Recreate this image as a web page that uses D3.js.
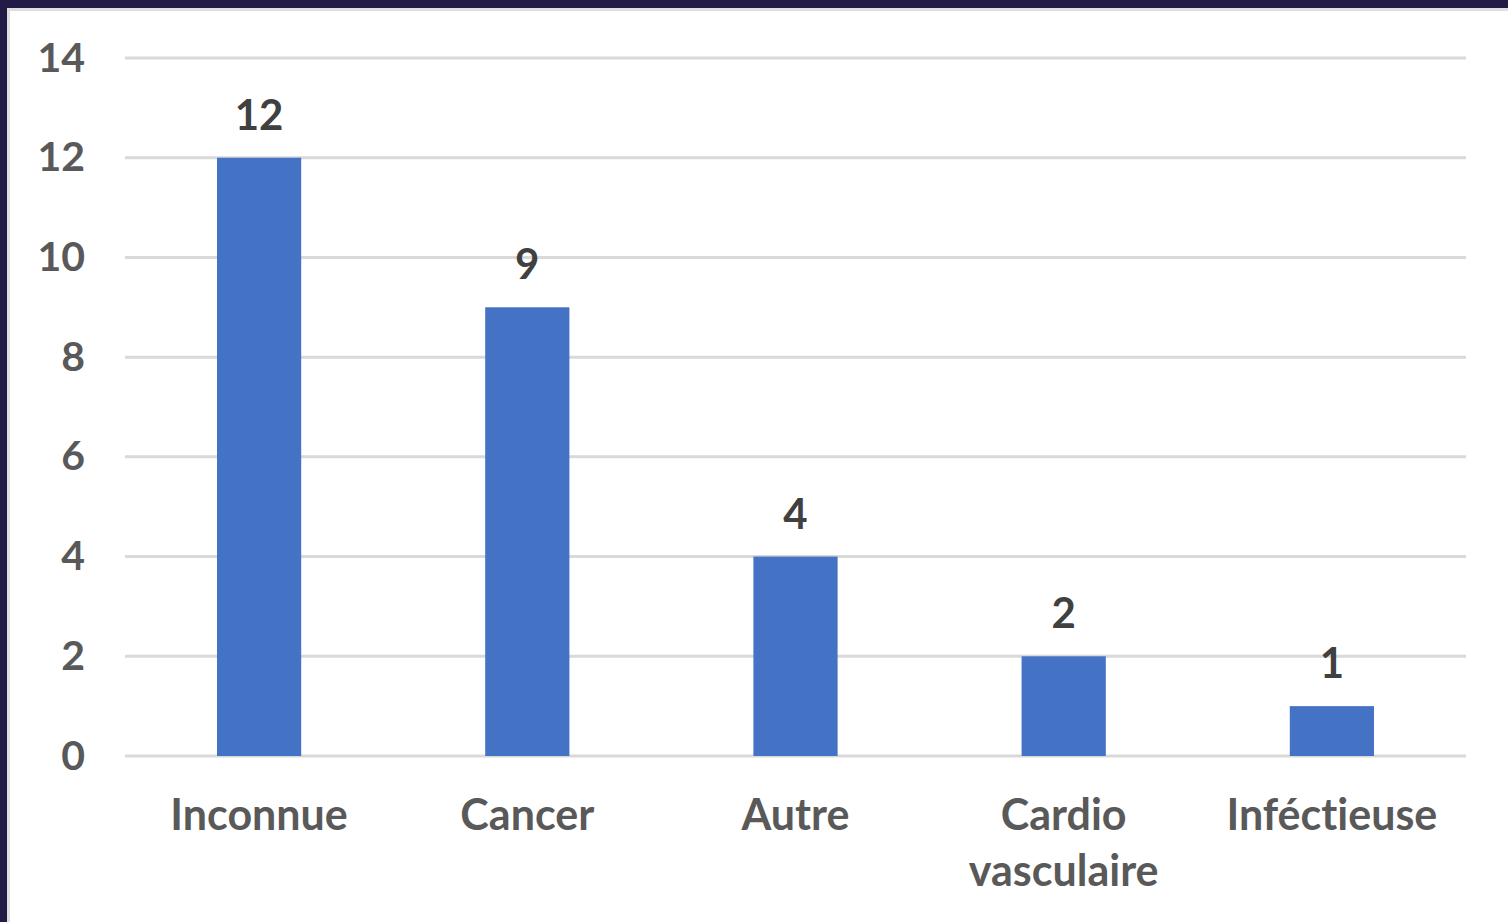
<!DOCTYPE html>
<html>
<head>
<meta charset="utf-8">
<script src="https://cdn.jsdelivr.net/npm/d3@7"></script>
<style>
  html, body { margin: 0; padding: 0; background: #ffffff; }
  svg { display: block; }
  text { font-variant-ligatures: none; font-feature-settings: "liga" 0; }
</style>
</head>
<body>
<script>
// data
var categories = [['Inconnue'], ['Cancer'], ['Autre'], ['Cardio', 'vasculaire'], ['Inféctieuse']];
var values = [12, 9, 4, 2, 1];
var yTicks = [0, 2, 4, 6, 8, 10, 12, 14];

var width = 1508, height = 922;
var margin = { top: 58, right: 42, bottom: 166, left: 125 };

var svg = d3.select('body').append('svg')
  .attr('width', width)
  .attr('height', height);

// frame: dark border on top and left, thin grey inside
svg.append('rect').attr('x', 0).attr('y', 0).attr('width', width).attr('height', height).style('fill', '#ffffff');
svg.append('rect').attr('x', 0).attr('y', 0).attr('width', width).attr('height', 8).style('fill', '#231a45');
svg.append('rect').attr('x', 0).attr('y', 0).attr('width', 7).attr('height', height).style('fill', '#231a45');
svg.append('rect').attr('x', 7).attr('y', 8).attr('width', width - 7).attr('height', 3).style('fill', '#dedede');
svg.append('rect').attr('x', 7).attr('y', 8).attr('width', 3).attr('height', height - 8).style('fill', '#dedede');

var keys = categories.map(function(d) { return d.join(' '); });

var x = d3.scaleBand()
  .domain(keys)
  .range([margin.left, width - margin.right])
  .paddingInner(0.686)
  .paddingOuter(0.343);

var y = d3.scaleLinear()
  .domain([0, 14])
  .range([height - margin.bottom, margin.top]);

var font = 'Lato, "Open Sans", sans-serif';

// gridlines
svg.append('g')
  .selectAll('line')
  .data(yTicks)
  .enter()
  .append('line')
  .attr('x1', margin.left)
  .attr('x2', width - margin.right)
  .attr('y1', function(d) { return y(d); })
  .attr('y2', function(d) { return y(d); })
  .style('stroke', '#d9d9d9')
  .style('stroke-width', 3);

// y axis labels
var yAxis = svg.append('g')
  .attr('transform', 'translate(85,0)')
  .call(d3.axisLeft(y).tickValues(yTicks).tickSize(0).tickPadding(0));
yAxis.select('.domain').remove();
yAxis.selectAll('text')
  .style('font-family', font)
  .style('font-weight', 700)
  .style('font-size', '41px')
  .style('fill', '#595959');

// bars
svg.append('g')
  .selectAll('rect')
  .data(values)
  .enter()
  .append('rect')
  .attr('x', function(d, i) { return x(keys[i]); })
  .attr('y', function(d) { return y(d); })
  .attr('width', x.bandwidth())
  .attr('height', function(d) { return y(0) - y(d); })
  .style('fill', '#4472c4');

// data labels
svg.append('g')
  .selectAll('text')
  .data(values)
  .enter()
  .append('text')
  .attr('x', function(d, i) { return x(keys[i]) + x.bandwidth() / 2; })
  .attr('y', function(d) { return y(d) - 28; })
  .attr('text-anchor', 'middle')
  .style('font-family', font)
  .style('font-weight', 700)
  .style('font-size', '42px')
  .style('fill', '#404040')
  .text(function(d) { return d; });

// x axis labels
var xLabels = svg.append('g')
  .selectAll('text')
  .data(categories)
  .enter()
  .append('text')
  .attr('x', function(d, i) { return x(keys[i]) + x.bandwidth() / 2; })
  .attr('y', 830)
  .attr('text-anchor', 'middle')
  .style('font-family', font)
  .style('font-weight', 700)
  .style('font-size', '43px')
  .style('fill', '#595959');

xLabels.selectAll('tspan')
  .data(function(d) { return d; })
  .enter()
  .append('tspan')
  .attr('x', function() { return d3.select(this.parentNode).attr('x'); })
  .attr('dy', function(d, i) { return i === 0 ? 0 : 56; })
  .text(function(d) { return d; });
</script>
</body>
</html>
